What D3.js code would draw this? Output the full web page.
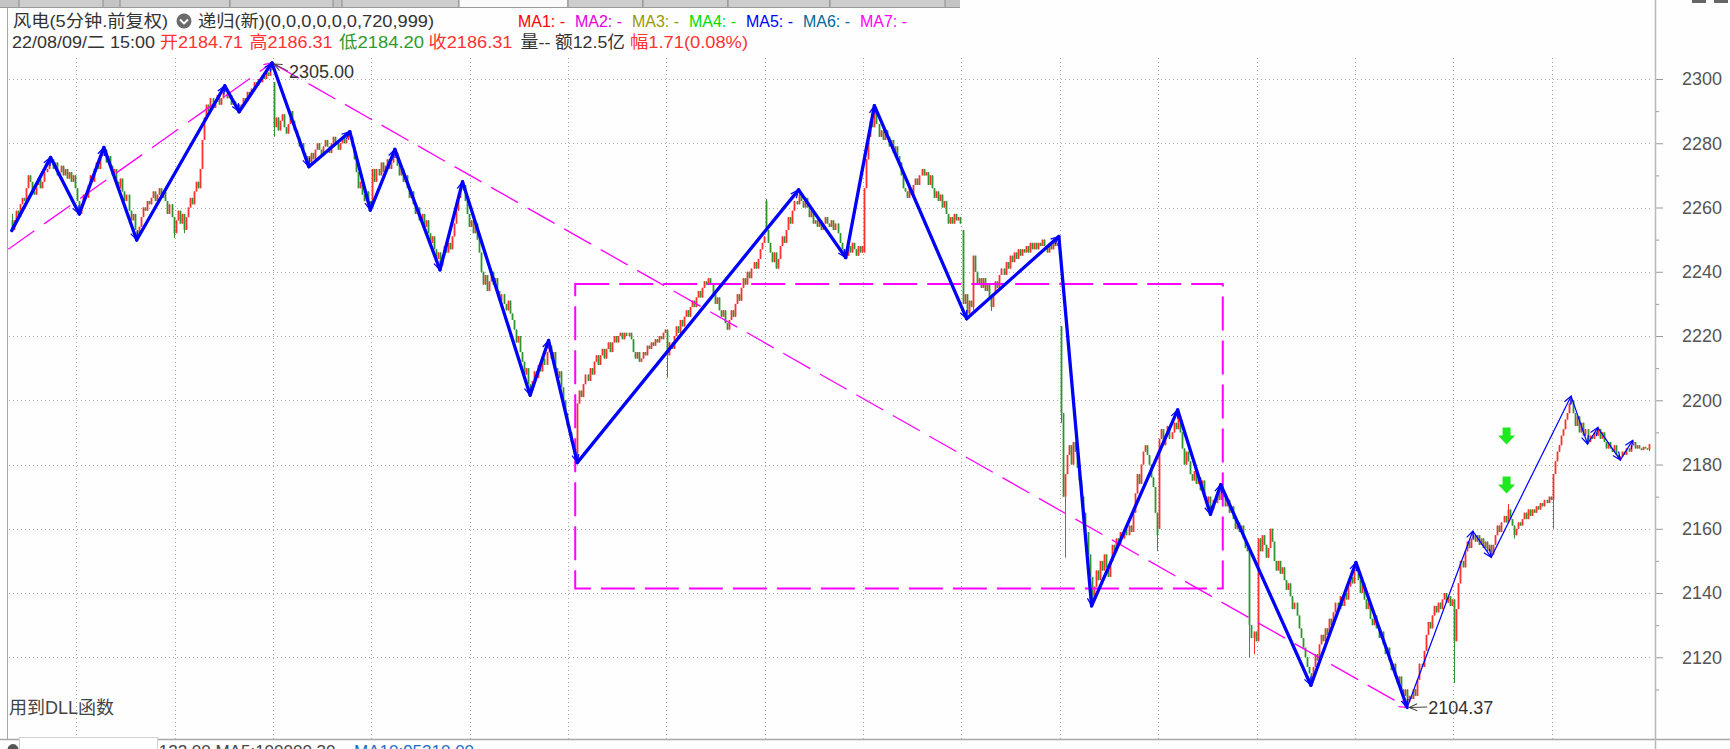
<!DOCTYPE html>
<html><head><meta charset="utf-8">
<script src="https://cdn.jsdelivr.net/npm/d3@7/dist/d3.min.js"></script>
<style>html,body{margin:0;padding:0;background:#fefefe;overflow:hidden}svg{display:block}</style>
</head><body>
<svg id="chart" width="1730" height="749"></svg>
<script>
// ================= DATA =================
// 5-minute closes, one row per trading day (first row is a partial day of 32 bars, then 16 days x 48 bars)
const closes = [
2253,2256,2259,2257,2261,2263,2262,2266,2270,2268,2265,2264,2267,2269,2266,2268,2271,2272,2274,2275,2272,2274,2270,2271,2273,2270,2272,2269,2271,2268,2270,2266,
2262,2258,2261,2264,2263,2267,2270,2268,2272,2274,2272,2276,2277,2278,2274,2276,2273,2270,2272,2268,2266,2269,2265,2262,2264,2259,2256,2258,2253,2251,2254,2257,2260,2259,2262,2261,2263,2265,2262,2264,2266,2263,2265,2262,2258,2261,2257,2252,
2256,2259,2255,2258,2253,2257,2260,2263,2261,2265,2268,2266,2272,2281,2288,2292,2290,2294,2291,2293,2295,2292,2294,2296,2297,2294,2295,2292,2293,2291,2292,2290.5,2292,2294,2293,2296,2295,2297,2299,2298,2300,2299,2301,2300,2302,2301,2303,2304,
2285,2288,2284,2287,2289,2285,2283,2286,2290,2287,2284,2282,2279,2280,2277,2275,2276,2274,2277,2275,2278,2280,2278,2276,2279,2281,2279,2277,2280,2282,2280,2278,2280,2282,2280,2281,2283,2282,2279,2275,2271,2266,2268,2264,2262,2265,2262,2260,
2272,2268,2272,2270,2274,2271,2273,2275,2272,2274,2276,2277,2273,2270,2272,2268,2270,2266,2263,2265,2261,2258,2260,2256,2258,2254,2256,2252,2249,2251,2247,2244,2246,2242,2245,2248,2246,2249,2247,2251,2255,2259,2263,2266,2267,2262,2258,2254,
2256,2252,2255,2250,2246,2240,2236,2239,2234,2237,2240,2236,2238,2234,2231,2233,2230,2228,2231,2227,2225,2222,2218,2220,2215,2212,2208,2210,2205,2203,2206,2209,2207,2211,2209,2213,2211,2215,2217,2213,2215,2210,2207,2209,2204,2200,2196,2192,
2190,2187,2185,2182,2199,2203,2201,2205,2208,2206,2210,2208,2212,2214,2211,2214,2216,2213,2216,2218,2215,2218,2220,2218,2220,2221,2219,2221,2220,2221,2219,2215,2213,2215,2212,2213,2215,2214,2217,2216,2218,2217,2219,2218,2220,2219,2221,2222,
2214,2218,2216,2220,2223,2221,2225,2223,2226,2228,2226,2229,2231,2229,2232,2234,2232,2235,2237,2236,2238,2236,2233,2230,2232,2228,2226,2228,2224,2222,2225,2228,2226,2230,2233,2231,2235,2238,2236,2240,2238,2241,2243,2241,2244,2247,2249,2251,
2253,2249,2246,2243,2246,2241,2244,2248,2251,2249,2253,2257,2255,2259,2262,2261,2264,2262,2260,2263,2260,2257,2259,2255,2256,2254,2256,2253,2255,2257,2255,2254,2256,2253,2255,2252,2249,2247,2246,2245,2248,2246,2249,2247,2245,2248,2246,2248,
2266,2275,2282,2287,2285,2290,2286,2282,2284,2281,2284,2282,2279,2281,2277,2279,2276,2274,2270,2266,2265,2263,2266,2264,2267,2269,2267,2270,2272,2270,2271,2267,2270,2266,2263,2265,2262,2264,2260,2262,2258,2255,2257,2255,2258,2256,2257,2255,
2230,2233,2227,2231,2229,2245,2240,2236,2238,2235,2238,2234,2236,2232,2229,2233,2237,2235,2239,2241,2239,2243,2241,2245,2243,2246,2244,2247,2245,2247,2246,2248,2246,2249,2247,2249,2247,2249,2248,2250,2248,2246,2249,2247,2250,2248,2249,2250,
2196,2170,2177,2183,2186,2180,2187,2184,2179,2175,2170,2165,2159,2152,2145,2138,2142,2147,2144,2150,2147,2152,2148,2145,2150,2155,2153,2157,2155,2159,2157,2160,2158,2161,2159,2165,2171,2177,2174,2180,2184,2186,2183,2180,2176,2173,2165,2158,
2188,2191,2186,2189,2192,2188,2190,2193,2191,2195,2190,2185,2180,2184,2181,2177,2175,2178,2174,2176,2172,2175,2170,2168,2170,2166,2169,2168,2171,2169,2172,2170,2167,2169,2165,2167,2163,2160,2162,2159,2161,2157,2154,2153,2130,2126,2128,2125,
2157,2153,2158,2155,2151,2154,2160,2156,2150,2147,2150,2146,2148,2144,2141,2143,2139,2135,2137,2133,2129,2126,2123,2120,2117,2115,2113,2117,2121,2119,2124,2127,2125,2129,2127,2132,2130,2134,2137,2135,2139,2136,2140,2138,2142,2145,2143,2147,
2148,2144,2140,2143,2138,2135,2137,2132,2130,2133,2129,2126,2128,2124,2121,2123,2119,2116,2118,2114,2112,2114,2110,2108,2110,2106,2108,2107,2110,2108,2113,2118,2117,2122,2127,2131,2129,2133,2136,2134,2137,2135,2138,2140,2137,2139,2136,2138,
2125,2135,2143,2150,2148,2153,2156,2154,2157,2158,2156,2158,2155,2157,2154,2156,2153,2155,2152,2155,2158,2161,2159,2162,2164,2162,2166,2163,2161,2158,2160,2162,2161,2163,2165,2163,2166,2164,2166,2165,2167,2166,2168,2167,2169,2168,2170,2169,
2177,2181,2184,2186,2189,2191,2194,2196,2199,2200,2196,2192,2195,2190,2193,2189,2191,2187,2189,2188,2190,2189,2191,2188,2190,2187,2185,2187,2185,2184,2186,2183,2182,2182.5,2184,2183,2185,2184,2186,2187,2185,2186,2185,2184.5,2185.5,2185,2184.71,2186.31
];
// bars whose open differs from the previous close: [bar, open]
const openGaps = [[0,2256],[32,2266],[128,2299],[368,2262],[416,2246],[464,2253],[512,2223],[560,2160],[608,2125],[704,2138],[752,2169],[799,2184.71]];
// bars with a wick above / below the body: [bar, high] / [bar, low]
const highMarks = [[0,2258],[19,2275.6],[45,2278.7],[104,2297.9],[127,2305],[165,2283.6],[187,2278.1],[220,2268],[262,2218.6],[368,2262.7],[384,2265.5],[421,2291.7],[511,2251],[569,2197],[590,2173.7],[656,2149.5],[713,2159.3],[730,2167.7],[761,2201.3],[774,2191.5],[791,2187.5]];
const lowMarks = [[0,2252.8],[33,2257.5],[61,2249.9],[79,2250.5],[84,2252],[111,2289.8],[128,2282],[145,2272.7],[175,2259.2],[209,2240.6],[253,2201.6],[276,2180.6],[320,2207],[407,2244.4],[466,2225.4],[469,2228],[478,2227.8],[512,2193],[514,2151],[527,2136],[559,2153],[585,2164.5],[604,2120],[606,2121],[634,2111.3],[681,2104.37],[704,2112],[722,2151.1],[733,2157],[752,2160],[769,2186.4],[785,2181.4],[799,2184.2]];
// first bar of each day (vertical grid)
const dayStartIdx = [32,80,128,176,224,272,320,368,416,464,512,560,608,656,704,752];
const yTicks = [2120,2140,2160,2180,2200,2220,2240,2260,2280,2300];
const yMinorTicks = [2110,2130,2150,2170,2190,2210,2230,2250,2270,2290];
// thick zigzag (递归) pivots
const zigIdx = [0,19,33,45,61,104,111,127,145,165,175,187,209,220,253,262,276,384,407,421,466,511,527,569,585,590,634,656,681];
const zigVal = [2252.8,2275.6,2258,2278.7,2249.9,2297.9,2289.8,2305,2272.7,2283.6,2259.2,2278.1,2240.6,2268,2201.6,2218.6,2180.6,2265.5,2244.4,2291.7,2225.4,2251,2136,2197,2164.5,2173.7,2111.3,2149.5,2104.37];
// thin zigzag pivots
const thinIdx = [681,713,722,761,769,774,785,791];
const thinVal = [2104.37,2159.3,2151.1,2201.3,2186.4,2191.5,2181.4,2187.5];
// magenta trend lines and box
const trendUpIdx = [-1.7,127], trendUpVal = [2247,2305];
const trendDnIdx = [127,681], trendDnVal = [2305,2104.37];
const boxIdx = [275,591], boxVal = [2236.2,2141.4];
// green down-arrow signals
const signalIdx = [729.5,729.5], signalVal = [2188.7,2173.5];
// extreme labels
const extremeIdx = [127,681], extremeVal = [2305.00,2104.37];

const header1 = [
  {t:"风电(5分钟.前复权)", x:13, w:155, c:"#333"},
  {t:"递归(新)(0,0,0,0,0,0,720,999)", x:198, w:236, c:"#333"},
  {t:"MA1: -", x:518, w:47, c:"#ff0000"},
  {t:"MA2: -", x:575, w:47, c:"#e000e0"},
  {t:"MA3: -", x:632, w:47, c:"#9a9a00"},
  {t:"MA4: -", x:689, w:47, c:"#00dd00"},
  {t:"MA5: -", x:746, w:47, c:"#0000ff"},
  {t:"MA6: -", x:803, w:47, c:"#006a9a"},
  {t:"MA7: -", x:860, w:47, c:"#ff00ff"}
];
const header2 = [
  {t:"22/08/09/二 15:00", x:12, w:143, c:"#333"},
  {t:"开2184.71", x:160, w:83, c:"#ff3333"},
  {t:"高2186.31", x:249.5, w:83, c:"#ff3333"},
  {t:"低2184.20", x:339, w:85, c:"#2f9a2f"},
  {t:"收2186.31", x:428.5, w:84, c:"#ff3333"},
  {t:"量--", x:520.5, w:30, c:"#333"},
  {t:"额12.5亿", x:555, w:70, c:"#333"},
  {t:"幅1.71(0.08%)", x:630, w:118, c:"#ff3333"}
];

// ================= DRAW =================
const FONT = '"Liberation Sans", Arial, "Noto Sans CJK SC", sans-serif';
const L = 8, R = 1655, T = 8, B = 739;
const svg = d3.select("#chart");
const x = d3.scaleLinear().domain([0, closes.length - 1]).range([11.7, 1649]);
const y = d3.scaleLinear().domain([2120, 2300]).range([657.3, 79]);

svg.append("rect").attr("width", 1730).attr("height", 749).attr("fill", "#fefefe");

const defs = svg.append("defs");
defs.append("clipPath").attr("id", "plotClip").append("rect")
  .attr("x", L).attr("y", T).attr("width", R - L).attr("height", B - T);
function marker(id, color, w) {
  defs.append("marker").attr("id", id).attr("markerUnits", "userSpaceOnUse")
    .attr("viewBox", "-10 -6 12 12").attr("refX", 0).attr("refY", 0)
    .attr("markerWidth", 12).attr("markerHeight", 12).attr("orient", "auto")
    .append("path").attr("d", "M-8,-3.5L0,0L-8,3.5").attr("fill", "none")
    .attr("stroke", color).attr("stroke-width", w);
}
marker("arB", "#0000ff", 1.2);
marker("arM", "#ff00ff", 1.2);
marker("arG", "#444", 1);

// tab strip
const tabs = [[19,103],[120,230],[230,333],[342,459],[459,568],[568,643],[643,728],[728,830],[830,945]];
svg.append("rect").attr("x", 0).attr("y", 0).attr("width", 960).attr("height", 8).attr("fill", "#c4c4c4");
svg.selectAll(".tab").data(tabs).join("rect").attr("class", "tab")
  .attr("x", d => d[0]).attr("y", -2).attr("width", d => d[1] - d[0]).attr("height", 9.5)
  .attr("fill", (d, i) => i === 4 ? "#fafafa" : "#cdcdcd").attr("stroke", "#8c8c8c");
svg.append("line").attr("x1", 0).attr("x2", 960).attr("y1", 7.5).attr("y2", 7.5).attr("stroke", "#9a9a9a");
svg.append("rect").attr("x", 1692).attr("y", 0).attr("width", 14).attr("height", 3).attr("fill", "#666");
svg.append("rect").attr("x", 1714).attr("y", 0).attr("width", 14).attr("height", 3).attr("fill", "#666");

// borders
svg.append("line").attr("x1", L - 0.5).attr("x2", L - 0.5).attr("y1", T).attr("y2", B).attr("stroke", "#a8a8a8");
svg.append("line").attr("x1", 0).attr("x2", 1730).attr("y1", B + 0.5).attr("y2", B + 0.5).attr("stroke", "#a8a8a8").attr("stroke-width", 1.5);

// grid
const grid = svg.append("g").attr("stroke", "#a9a9a9").attr("stroke-dasharray", "1,3");
grid.selectAll(".hg").data(yTicks).join("line")
  .attr("x1", L + 1).attr("x2", R - 2)
  .attr("y1", d => Math.round(y(d)) + 0.5).attr("y2", d => Math.round(y(d)) + 0.5);
grid.selectAll(".vg").data(dayStartIdx).join("line")
  .attr("x1", d => Math.round(x(d - 0.5)) + 0.5).attr("x2", d => Math.round(x(d - 0.5)) + 0.5)
  .attr("y1", 58).attr("y2", B);

// candles
const opens = closes.map((c, i) => i === 0 ? c : closes[i - 1]);
openGaps.forEach(([i, v]) => { opens[i] = v; });
const highs = closes.map((c, i) => Math.max(c, opens[i]));
const lows = closes.map((c, i) => Math.min(c, opens[i]));
highMarks.forEach(([i, v]) => { highs[i] = Math.max(highs[i], v); });
lowMarks.forEach(([i, v]) => { lows[i] = Math.min(lows[i], v); });
const bars = closes.map((c, i) => ({i, o: opens[i], c, h: highs[i], l: lows[i]}));
const RED = "#ff3030", GREEN = "#2f962f";
const plot = svg.append("g").attr("clip-path", "url(#plotClip)");
const cg = plot.append("g");
cg.selectAll(".wick").data(bars).join("line")
  .attr("x1", d => Math.round(x(d.i)) + 0.5).attr("x2", d => Math.round(x(d.i)) + 0.5)
  .attr("y1", d => y(d.h)).attr("y2", d => y(d.l))
  .attr("stroke", d => d.c >= d.o ? RED : GREEN).attr("stroke-width", 1);
cg.selectAll(".body").data(bars).join("rect")
  .attr("x", d => Math.round(x(d.i)) - 0.4).attr("width", 1.8)
  .attr("y", d => y(Math.max(d.o, d.c)))
  .attr("height", d => Math.max(1.2, Math.abs(y(d.o) - y(d.c))))
  .attr("fill", d => d.c >= d.o ? RED : GREEN);

// magenta lines and box
const mg = plot.append("g").attr("fill", "none").attr("stroke", "#ff00ff");
mg.append("line").attr("x1", x(trendUpIdx[0])).attr("y1", y(trendUpVal[0]))
  .attr("x2", x(trendUpIdx[1])).attr("y2", y(trendUpVal[1]))
  .attr("stroke-width", 1.3).attr("stroke-dasharray", "32,12").attr("marker-end", "url(#arM)");
mg.append("line").attr("x1", x(trendDnIdx[0])).attr("y1", y(trendDnVal[0]))
  .attr("x2", x(trendDnIdx[1])).attr("y2", y(trendDnVal[1]))
  .attr("stroke-width", 1.3).attr("stroke-dasharray", "31,11").attr("marker-end", "url(#arM)");
mg.append("rect").attr("x", x(boxIdx[0])).attr("y", y(boxVal[0]))
  .attr("width", x(boxIdx[1]) - x(boxIdx[0])).attr("height", y(boxVal[1]) - y(boxVal[0]))
  .attr("stroke-width", 2).attr("stroke-dasharray", "34,10");

// zigzags
const zg = plot.append("g");
const zsegs = d3.range(zigIdx.length - 1).map(k => [zigIdx[k], zigVal[k], zigIdx[k + 1], zigVal[k + 1]]);
zg.selectAll(".zz").data(zsegs).join("line")
  .attr("x1", d => x(d[0])).attr("y1", d => y(d[1])).attr("x2", d => x(d[2])).attr("y2", d => y(d[3]))
  .attr("stroke", "#0000ff").attr("stroke-width", 3.3).attr("stroke-linecap", "round")
  .attr("marker-end", "url(#arB)");
const tsegs = d3.range(thinIdx.length - 1).map(k => [thinIdx[k], thinVal[k], thinIdx[k + 1], thinVal[k + 1]]);
zg.selectAll(".tz").data(tsegs).join("line")
  .attr("x1", d => x(d[0])).attr("y1", d => y(d[1])).attr("x2", d => x(d[2])).attr("y2", d => y(d[3]))
  .attr("stroke", "#0000ff").attr("stroke-width", 1.2).attr("marker-end", "url(#arB)");

// green signal arrows
plot.selectAll(".sig").data(signalIdx.map((i, k) => [x(i), y(signalVal[k])])).join("path")
  .attr("d", d => `M${d[0]-4},${d[1]-9}h8v8h4.5l-8.5,9l-8.5,-9h4.5z`).attr("fill", "#1ee81e");

// extreme labels
const lab = svg.append("g").attr("font-family", FONT).attr("font-size", 18).attr("fill", "#333");
const px = x(extremeIdx[0]), py = y(extremeVal[0]);
lab.append("line").attr("x1", px + 16).attr("y1", py + 8).attr("x2", px + 2).attr("y2", py + 1)
  .attr("stroke", "#444").attr("marker-end", "url(#arG)");
lab.append("text").attr("x", px + 17).attr("y", py + 15).text(d3.format(".2f")(extremeVal[0]));
const qx = x(extremeIdx[1]), qy = y(extremeVal[1]);
lab.append("line").attr("x1", qx + 20).attr("y1", qy - 0.5).attr("x2", qx + 2).attr("y2", qy)
  .attr("stroke", "#444").attr("marker-end", "url(#arG)");
lab.append("text").attr("x", qx + 21).attr("y", qy + 6.5).text(d3.format(".2f")(extremeVal[1]));

// y axis
const ax = svg.append("g").attr("transform", `translate(${R},0)`)
  .call(d3.axisRight(y).tickValues(yTicks).tickSize(8).tickPadding(19).tickFormat(d3.format("d")));
ax.select(".domain").remove();
ax.selectAll(".tick line").attr("stroke", "#9a9a9a");
ax.selectAll(".tick text").attr("font-family", FONT).attr("font-size", 18).attr("fill", "#555");
const axm = svg.append("g").attr("transform", `translate(${R},0)`)
  .call(d3.axisRight(y).tickValues(yMinorTicks).tickSize(4).tickFormat(() => ""));
axm.select(".domain").remove();
axm.selectAll(".tick line").attr("stroke", "#9a9a9a");
svg.append("line").attr("x1", R + 0.5).attr("x2", R + 0.5).attr("y1", 0).attr("y2", 749)
  .attr("stroke", "#b8b8b8").attr("stroke-width", 1.5);

// header
const hg = svg.append("g").attr("font-family", FONT).attr("font-size", 17);
hg.selectAll(".h1").data(header1).join("text")
  .attr("x", d => d.x).attr("y", 27).attr("fill", d => d.c)
  .attr("textLength", d => d.w).attr("lengthAdjust", "spacingAndGlyphs").text(d => d.t);
hg.selectAll(".h2").data(header2).join("text")
  .attr("x", d => d.x).attr("y", 48).attr("fill", d => d.c)
  .attr("textLength", d => d.w).attr("lengthAdjust", "spacingAndGlyphs").text(d => d.t);
// dropdown icon
svg.append("circle").attr("cx", 184).attr("cy", 21).attr("r", 7.5).attr("fill", "#6b6b6b");
svg.append("path").attr("d", "M180,19.5L184,23.5L188,19.5").attr("fill", "none").attr("stroke", "#fff").attr("stroke-width", 1.8);

// bottom texts (the status line is cut by the window edge, as in the reference)
svg.append("text").attr("x", 9).attr("y", 714).attr("font-family", FONT).attr("font-size", 18)
  .attr("fill", "#444").text("用到DLL函数");
const bt = svg.append("text").attr("y", 757).attr("font-family", FONT).attr("font-size", 17);
bt.append("tspan").attr("x", 120).attr("fill", "#444").text("VOL:122.00  MA5:100000.30");
bt.append("tspan").attr("x", 354).attr("fill", "#1e6ec8").text("MA10:95310.00");
svg.append("rect").attr("x", 19.5).attr("y", 737.5).attr("width", 138).attr("height", 14)
  .attr("fill", "#ffffff").attr("stroke", "#d0d0d0");
svg.append("ellipse").attr("cx", 13).attr("cy", 752).attr("rx", 6).attr("ry", 8).attr("fill", "#555");
</script>
</body></html>
